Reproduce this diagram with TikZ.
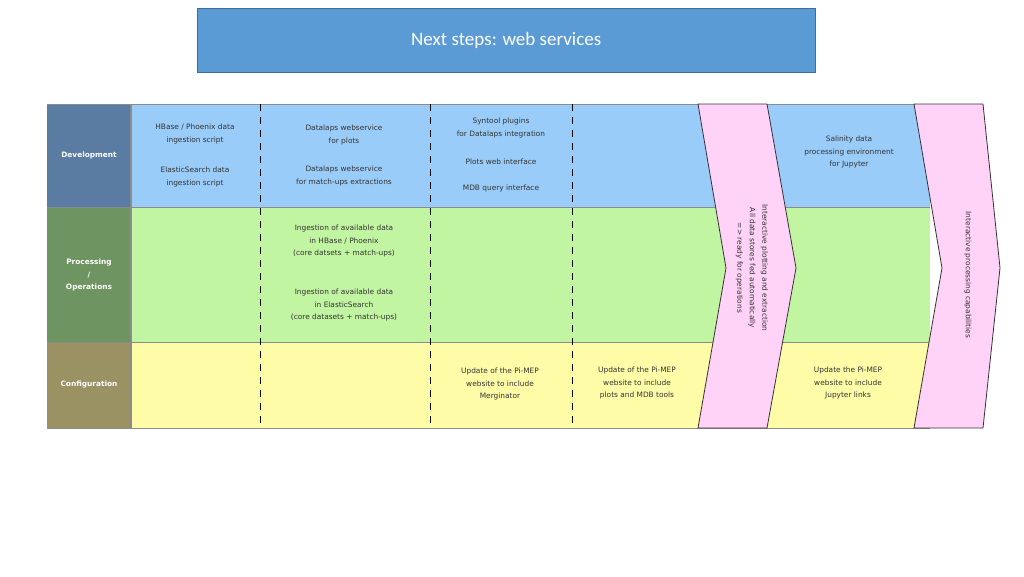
\documentclass[tikz,border=0pt]{standalone}
\usepackage{fontspec}
\setmainfont{DejaVu Sans}
\newfontfamily\titlefont{Carlito}
\begin{document}
\begin{tikzpicture}[x=1pt,y=-1pt,
  txt/.style={font=\fontsize{7.4}{12.5}\selectfont,align=center,text=black!80},
  hdr/.style={font=\bfseries\fontsize{7.4}{12.5}\selectfont,align=center,text=white},
  sepline/.style={black,line width=1pt,dash pattern=on 7pt off 6pt},
  chev/.style={fill=pk,draw=black!80,line width=0.8pt}]
\useasboundingbox (0,0) rectangle (1024,576);
\definecolor{tb}{HTML}{5B9BD5}
\definecolor{rb}{HTML}{99CCF8}
\definecolor{rg}{HTML}{C2F5A2}
\definecolor{ry}{HTML}{FFFCA8}
\definecolor{pk}{HTML}{FFD2F8}
\definecolor{hd}{HTML}{5A7CA2}
\definecolor{hp}{HTML}{6E9462}
\definecolor{hc}{HTML}{9A9262}
\node[draw=tb!70!black,fill=tb,minimum width=618,minimum height=64,anchor=north west,text=white,font=\titlefont\fontsize{19}{22}\selectfont] (title) at (197,8) {Next steps: web services};
% rows
\fill[rb] (131,104) rectangle (930,207);
\fill[rg] (131,207) rectangle (930,342);
\fill[ry] (131,342) rectangle (930,428);
% headers
\fill[hd] (47,104) rectangle (131,207);
\fill[hp] (47,207) rectangle (131,342);
\fill[hc] (47,342) rectangle (131,428);
\draw[black!45,line width=0.8pt] (47,104) -- (930,104) (47,207) -- (930,207) (47,342) -- (930,342) (47,428) -- (930,428);
\draw[black!45,line width=1.5pt] (131,104) -- (131,428);
\node[hdr] (h1) at (89,155) {Development};
\node[hdr] (h2) at (89,275) {Processing\\/\\Operations};
\node[hdr] (h3) at (89,384) {Configuration};
% dashed separators
\draw[sepline] (260,104) -- (260,428);
\draw[sepline] (430,104) -- (430,428);
\draw[sepline] (572,104) -- (572,428);
% texts
\node[txt] (a1) at (195,134) {HBase / Phoenix data\\ingestion script};
\node[txt] (a2) at (195,177) {ElasticSearch data\\ingestion script};
\node[txt] (b1) at (344,135) {Datalaps webservice\\for plots};
\node[txt] (b2) at (344,176) {Datalaps webservice\\for match-ups extractions};
\node[txt] (b3) at (344,241) {Ingestion of available data\\in HBase / Phoenix\\(core datsets + match-ups)};
\node[txt] (b4) at (344,305) {Ingestion of available data\\in ElasticSearch\\(core datasets + match-ups)};
\node[txt] (c1) at (501,128) {Syntool plugins\\for Datalaps integration};
\node[txt] (c2) at (501,162) {Plots web interface};
\node[txt] (c3) at (501,188) {MDB query interface};
\node[txt] (c4) at (500,384) {Update of the Pi-MEP\\website to include\\Merginator};
\node[txt] (d1) at (637,383) {Update of the Pi-MEP\\website to include\\plots and MDB tools};
\node[txt] (e1) at (849,152) {Salinity data\\processing environment\\for Jupyter};
\node[txt] (e2) at (848,383) {Update the Pi-MEP\\website to include\\Jupyter links};
% chevrons
\draw[chev] (698,104) -- (767,104) -- (796,268) -- (767,428) -- (698,428) -- (726,268) -- cycle;
\draw[chev] (914,104) -- (983,104) -- (1000,268) -- (983,428) -- (914,428) -- (942,268) -- cycle;
\node[txt,rotate=-90] (p1) at (752,268) {Interactive plotting and extraction\\All data stores fed automatically\\=> ready for operations};
\node[txt,rotate=-90] (p2) at (968,275) {Interactive processing capabilities};
\end{tikzpicture}
\end{document}
